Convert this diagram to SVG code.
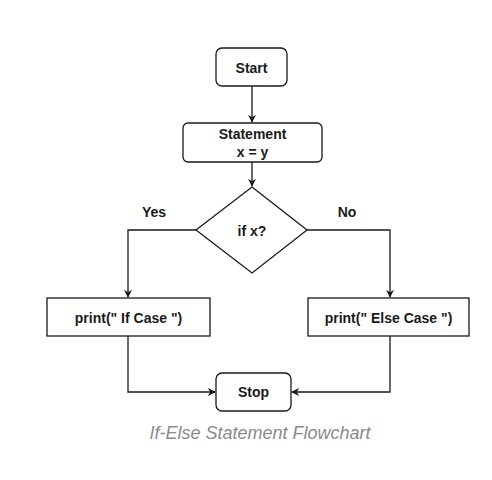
<svg xmlns="http://www.w3.org/2000/svg" width="492" height="480" viewBox="0 0 492 480">
<defs>
<marker id="arr" viewBox="0 0 10 10" refX="9" refY="5" markerWidth="8" markerHeight="8" markerUnits="userSpaceOnUse" orient="auto">
<path d="M0,0 L10,5 L0,10 L3,5 Z" fill="#1a1a1a"/>
</marker>
</defs>
<style>
.box{fill:#fff;stroke:#1a1a1a;stroke-width:1.3}
.lbl{font-family:"Liberation Sans",Arial,sans-serif;font-size:14px;font-weight:bold;fill:#1a1a1a;text-anchor:middle;dominant-baseline:central}
.edge{fill:none;stroke:#1a1a1a;stroke-width:1.3;marker-end:url(#arr)}
.cap{font-family:"Liberation Sans",Arial,sans-serif;font-size:18px;font-style:italic;fill:#8a8a8a;text-anchor:middle}
</style>
<rect width="492" height="480" fill="#fff"/>
<g id="connectors">
<path class="edge" d="M252,86 V122"/>
<path class="edge" d="M252,162 V186"/>
<path class="edge" d="M196,230 H128 V297"/>
<path class="edge" d="M307,230 H390 V297"/>
<path class="edge" d="M128,336 V392 H215"/>
<path class="edge" d="M390,336 V392 H292"/>
</g>
<g id="start"><rect class="box" x="216" y="48" width="71" height="38" rx="6"/><text class="lbl" x="251.5" y="68">Start</text></g>
<g id="statement"><rect class="box" x="183" y="123" width="139" height="39" rx="5"/><text class="lbl" x="252.5" y="134">Statement</text><text class="lbl" x="252.5" y="152">x = y</text></g>
<g id="decision"><polygon class="box" points="252,187 307,230 252,273 196,230"/><text class="lbl" x="252" y="231">if x?</text></g>
<g id="ifcase"><rect class="box" x="47" y="298" width="163" height="38"/><text class="lbl" x="128.5" y="318">print(" If Case ")</text></g>
<g id="elsecase"><rect class="box" x="308" y="298" width="161" height="38"/><text class="lbl" x="388.5" y="318">print(" Else Case ")</text></g>
<g id="stop"><rect class="box" x="216" y="373" width="75" height="38" rx="6"/><text class="lbl" x="253.5" y="392">Stop</text></g>
<g id="labels"><text class="lbl" x="154" y="212">Yes</text><text class="lbl" x="347" y="212">No</text></g>
<text class="cap" x="260" y="439">If-Else Statement Flowchart</text>
</svg>
